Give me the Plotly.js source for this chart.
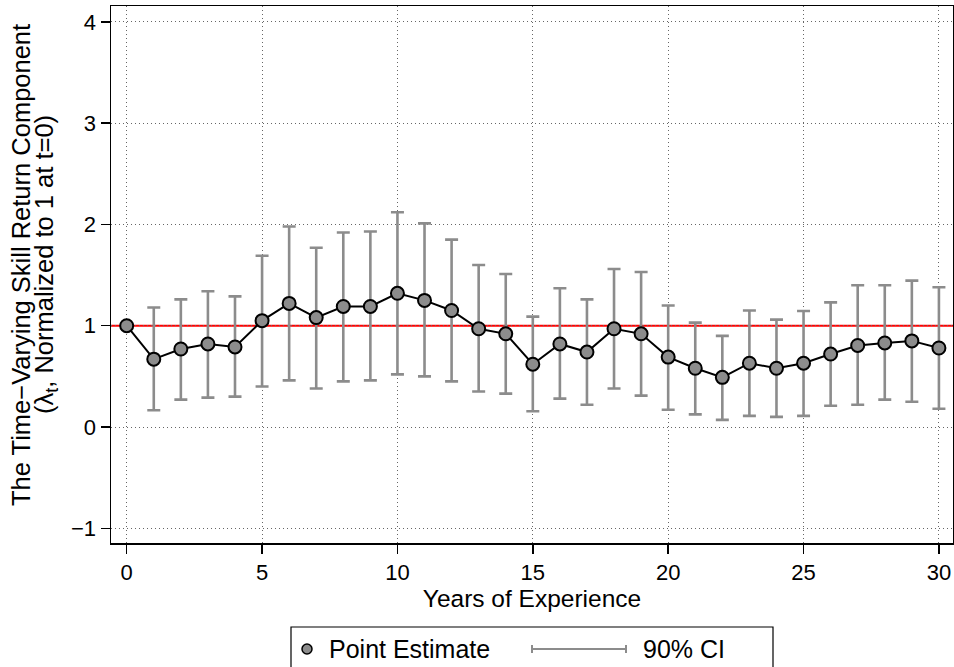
<!DOCTYPE html>
<html>
<head>
<meta charset="utf-8">
<script src="https://cdn.plot.ly/plotly-3.0.1.min.js"></script>
<style>html,body{margin:0;padding:0;background:#fff;}#chart{width:954px;height:667px;}</style>
</head>
<body>
<div id="chart"></div>
<script>
// Data
const years = [0,1,2,3,4,5,6,7,8,9,10,11,12,13,14,15,16,17,18,19,20,21,22,23,24,25,26,27,28,29,30];
const pointEstimate = [1.00,0.67,0.77,0.82,0.79,1.05,1.22,1.08,1.19,1.19,1.32,1.25,1.15,0.97,0.92,0.62,0.82,0.74,0.97,0.92,0.69,0.58,0.49,0.63,0.58,0.63,0.72,0.805,0.83,0.85,0.78];
const ciUpper = [1.00,1.18,1.26,1.34,1.29,1.69,1.98,1.77,1.92,1.93,2.12,2.01,1.85,1.60,1.51,1.09,1.37,1.26,1.56,1.53,1.20,1.03,0.90,1.15,1.06,1.145,1.23,1.40,1.40,1.445,1.38];
const ciLower = [1.00,0.165,0.27,0.29,0.30,0.40,0.46,0.38,0.45,0.46,0.52,0.50,0.45,0.35,0.33,0.155,0.28,0.22,0.38,0.31,0.17,0.125,0.07,0.11,0.10,0.11,0.21,0.22,0.27,0.25,0.18];
const referenceLevel = [1];
const xTickVals = [0,5,10,15,20,25,30];
const yTickVals = [-1,0,1,2,3,4];
const legendLabels = ["Point Estimate", "90% CI"];
const yTitleLines = ["The Time\u2212Varying Skill Return Component", "(\u03bb<sub>t</sub>, Normalized to 1 at t=0)"];
const xTitle = "Years of Experience";

const errPlus = ciUpper.map((u, i) => u - pointEstimate[i]);
const errMinus = pointEstimate.map((p, i) => p - ciLower[i]);
const hasCI = years.map((y, i) => ciUpper[i] !== ciLower[i]);

const FONT = "Liberation Sans, Arial, Helvetica, sans-serif";
const GRAY = "#8c8c8c";

const ciTrace = {
  x: years.filter((y, i) => hasCI[i]),
  y: pointEstimate.filter((p, i) => hasCI[i]),
  type: "scatter",
  mode: "markers",
  marker: {size: 1, color: "rgba(0,0,0,0)"},
  error_y: {
    type: "data", symmetric: false,
    array: errPlus.filter((e, i) => hasCI[i]),
    arrayminus: errMinus.filter((e, i) => hasCI[i]),
    color: GRAY, thickness: 2.6, width: 6.5
  },
  showlegend: false, hoverinfo: "skip"
};

const pointTrace = {
  x: years, y: pointEstimate,
  type: "scatter", mode: "lines+markers",
  line: {color: "#000", width: 2},
  marker: {symbol: "circle", size: 13, color: GRAY, line: {color: "#000", width: 2}},
  showlegend: false
};

const L = 111, R = 1, T = 6, B = 124;
const W = 954 - L - R, H = 667 - T - B;
const px = v => (v - L) / W;
const py = v => (667 - B - v) / H;

const shapes = [
  {type: "line", xref: "paper", yref: "y", x0: 0, x1: 1, y0: referenceLevel[0], y1: referenceLevel[0],
   line: {color: "#ff0000", width: 2}, layer: "between"},
  // legend box
  {type: "rect", xref: "paper", yref: "paper", x0: px(291), x1: px(773), y0: py(627), y1: py(690),
   line: {color: "#000", width: 1.2}, fillcolor: "rgba(0,0,0,0)"},
  // legend marker
  {type: "circle", xref: "paper", yref: "paper", x0: px(302), x1: px(312), y0: py(644), y1: py(654),
   line: {color: "#000", width: 1.5}, fillcolor: GRAY},
  // legend CI symbol
  {type: "line", xref: "paper", yref: "paper", x0: px(532), x1: px(626), y0: py(649), y1: py(649),
   line: {color: GRAY, width: 2}},
  {type: "line", xref: "paper", yref: "paper", x0: px(532), x1: px(532), y0: py(645), y1: py(653),
   line: {color: GRAY, width: 2}},
  {type: "line", xref: "paper", yref: "paper", x0: px(626), x1: px(626), y0: py(645), y1: py(653),
   line: {color: GRAY, width: 2}}
];

const annotations = [
  {xref: "paper", yref: "paper", x: px(327), y: py(649), xanchor: "left", yanchor: "middle",
   text: legendLabels[0], showarrow: false, font: {family: FONT, size: 25, color: "#000"}},
  {xref: "paper", yref: "paper", x: px(641), y: py(649), xanchor: "left", yanchor: "middle",
   text: legendLabels[1], showarrow: false, font: {family: FONT, size: 25, color: "#000"}},
  {xref: "paper", yref: "paper", x: px(21), y: py(265), xanchor: "center", yanchor: "middle", textangle: -90,
   text: yTitleLines[0], showarrow: false, font: {family: FONT, size: 25.5, color: "#000"}},
  {xref: "paper", yref: "paper", x: px(46), y: py(265), xanchor: "center", yanchor: "middle", textangle: -90,
   text: yTitleLines[1], showarrow: false, font: {family: FONT, size: 25.5, color: "#000"}}
];

const layout = {
  width: 954, height: 667,
  margin: {l: L, r: R, t: T, b: B, pad: 0},
  paper_bgcolor: "#fff", plot_bgcolor: "#fff",
  font: {family: FONT, color: "#000"},
  showlegend: false,
  xaxis: {
    range: [-0.58, 30.52], tickvals: xTickVals, ticktext: xTickVals.map(String),
    ticks: "outside", ticklen: 9, tickwidth: 1.5, tickcolor: "#000",
    tickfont: {family: FONT, size: 22, color: "#000"},
    showline: true, linecolor: "#000", linewidth: 1.5, mirror: true,
    showgrid: true, gridcolor: "#666", griddash: "1px,3px", gridwidth: 1,
    zeroline: false,
    title: {text: xTitle, font: {family: FONT, size: 24.5, color: "#000"}, standoff: 2}
  },
  yaxis: {
    range: [-1.145, 4.156], tickvals: yTickVals, ticktext: yTickVals.map(v => v < 0 ? "\u2212" + Math.abs(v) : String(v)),
    ticks: "outside", ticklen: 9, tickwidth: 1.5, tickcolor: "#000",
    tickfont: {family: FONT, size: 22, color: "#000"},
    showline: true, linecolor: "#000", linewidth: 1.5, mirror: true,
    showgrid: true, gridcolor: "#666", griddash: "1px,3px", gridwidth: 1,
    zeroline: false
  },
  shapes: shapes,
  annotations: annotations
};

Plotly.newPlot("chart", [ciTrace, pointTrace], layout, {displayModeBar: false, staticPlot: true});
</script>
</body>
</html>
